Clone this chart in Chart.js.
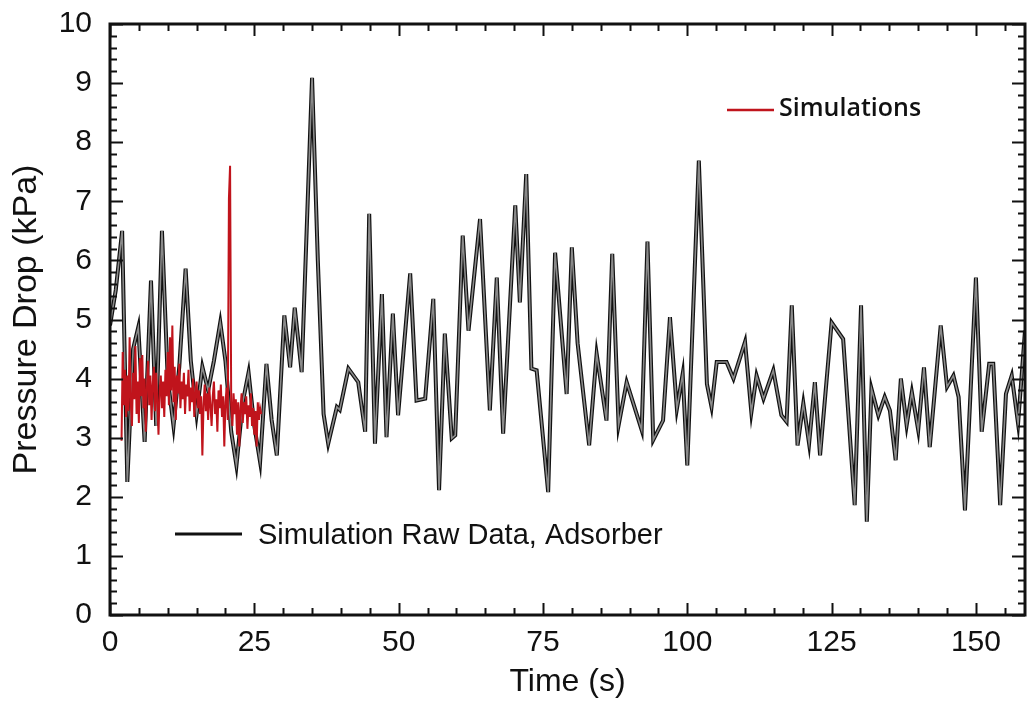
<!DOCTYPE html>
<html>
<head>
<meta charset="utf-8">
<script src="https://cdn.jsdelivr.net/npm/chart.js@4.4.0/dist/chart.umd.min.js"></script>
<style>
  html, body { margin: 0; padding: 0; background: #fff; }
  #chart { display: block; }
</style>
</head>
<body>
<canvas id="chart" width="1028" height="706"></canvas>
<script>
// raw adsorber trace (black)
const rawTime = [0, 1, 2.1, 3.0, 4.0, 4.9, 6.0, 7.1, 8.0, 9.0, 10.0, 11.0, 12.0, 13.1, 14.0, 15.0, 16.0, 17.0, 18.0, 19.1,
  20.0, 21.0, 21.9, 23.0, 24.0, 25.0, 26.0, 27.1, 28.0, 28.9, 30.2, 31.2, 32.0, 33.2, 35.0, 36.0, 37.0, 37.8, 39.3, 39.8,
  41.3, 43.0, 44.2, 44.9, 45.9, 47.1, 47.9, 49.0, 49.9, 52.0, 53.1, 54.6, 56.0, 57.0, 58.0, 59.2, 59.8, 61.1, 62.1, 64.1,
  65.8, 67.0, 68.1, 70.2, 71.0, 72.1, 73.0, 73.9, 75.9, 77.1, 79.1, 80.0, 81.0, 83.0, 84.3, 86.0, 87.0, 88.1, 89.5, 92.1,
  93.1, 94.1, 95.8, 97.0, 98.2, 99.2, 100.0, 102.0, 103.4, 104.2, 105.1, 106.8, 108.0, 110.0, 111.1, 112.0, 113.2, 114.9, 116.3, 117.2,
  118.1, 119.1, 120.1, 121.1, 122.1, 123.0, 125.0, 127.0, 129.0, 130.1, 131.1, 131.9, 133.1, 134.2, 135.1, 136.1, 137.0, 138.0, 138.9, 140.0,
  141.0, 142.0, 143.9, 145.0, 146.1, 147.0, 148.1, 150.0, 151.0, 152.3, 153.0, 154.2, 155.2, 156.2, 157.3, 158.5, 159.5];
const rawPressure = [4.9, 5.5, 6.5, 2.25, 4.5, 4.87, 2.93, 5.66, 3.2, 6.5, 4.0, 3.2, 4.2, 5.86, 4.3, 3.4, 4.2, 3.8, 4.3, 4.95,
  4.3, 3.1, 2.53, 3.6, 4.1, 3.2, 2.59, 4.25, 3.3, 2.7, 5.07, 4.19, 5.2, 4.11, 9.09, 6.0, 3.4, 2.9, 3.52, 3.47,
  4.17, 3.94, 3.1, 6.79, 2.9, 5.43, 3.01, 5.1, 3.38, 5.78, 3.63, 3.66, 5.35, 2.11, 4.76, 2.99, 3.04, 6.42, 4.81, 6.7,
  3.46, 5.71, 3.07, 6.93, 5.29, 7.46, 4.17, 4.14, 2.08, 6.13, 3.74, 6.22, 4.6, 2.87, 4.42, 3.29, 6.11, 3.21, 3.94, 3.13,
  6.32, 2.96, 3.29, 5.04, 3.49, 4.08, 2.53, 7.69, 3.91, 3.52, 4.28, 4.28, 4.0, 4.62, 3.43, 4.05, 3.66, 4.14, 3.38, 3.27,
  5.24, 2.87, 3.58, 2.9, 3.94, 2.7, 4.95, 4.67, 1.86, 5.24, 1.58, 3.83, 3.38, 3.69, 3.46, 2.62, 4.0, 3.21, 3.77, 3.13,
  4.19, 2.84, 4.9, 3.86, 4.05, 3.69, 1.77, 5.71, 3.1, 4.25, 4.25, 1.86, 3.74, 4.05, 3.24, 4.81, 5.3];

// simulations (red)
const simTime = [2.0, 2.2, 2.4, 2.6, 2.8, 3.0, 3.2, 3.4, 3.6, 3.8, 4.0, 4.2, 4.4, 4.6, 4.8, 5.0, 5.2, 5.4, 5.6, 5.8,
  6.0, 6.2, 6.4, 6.6, 6.8, 7.0, 7.2, 7.4, 7.6, 7.8, 8.0, 8.2, 8.4, 8.6, 8.8, 9.0, 9.2, 9.4, 9.6, 9.8,
  10.0, 10.2, 10.4, 10.6, 10.8, 11.0, 11.2, 11.4, 11.6, 11.8, 12.0, 12.2, 12.4, 12.6, 12.8, 13.0, 13.2, 13.4, 13.6, 13.8,
  14.0, 14.2, 14.4, 14.6, 14.8, 15.0, 15.2, 15.4, 15.6, 15.8, 16.0, 16.2, 16.4, 16.6, 16.8, 17.0, 17.2, 17.4, 17.6, 17.8,
  18.0, 18.2, 18.4, 18.6, 18.8, 19.0, 19.2, 19.4, 19.6, 19.8, 20.0, 20.2, 20.4, 20.6, 20.8, 21.0, 21.2, 21.4, 21.6, 21.8,
  22.0, 22.2, 22.4, 22.6, 22.8, 23.0, 23.2, 23.4, 23.6, 23.8, 24.0, 24.2, 24.4, 24.6, 24.8, 25.0, 25.2, 25.4, 25.6, 25.8,
  26.0, 26.2];
const simPressure = [2.95, 4.45, 3.55, 4.15, 3.35, 4.05, 3.45, 4.7, 3.6, 3.2, 4.1, 3.65, 4.55, 3.4, 3.95, 3.25, 4.35, 3.7, 4.4, 3.5,
  4.0, 3.1, 3.85, 4.3, 3.55, 4.05, 3.3, 3.9, 4.2, 3.45, 4.1, 3.6, 3.05, 3.8, 4.05, 3.5, 3.95, 3.35, 4.15, 3.7,
  4.45, 3.55, 4.7, 3.8, 4.9, 3.6, 4.2, 3.3, 4.05, 3.75, 4.25, 3.5, 3.95, 3.65, 4.1, 3.4, 3.9, 3.7, 4.15, 3.45,
  3.85, 3.6, 4.0, 3.35, 3.75, 3.95, 3.5, 3.8, 3.4, 3.7, 2.7, 3.55, 3.9, 3.45, 3.75, 3.3, 3.85, 3.55, 3.2, 3.7,
  3.95, 3.4, 3.65, 3.1, 3.8, 3.5, 3.9, 3.35, 3.7, 2.85, 3.6, 3.85, 3.3, 7.05, 7.6, 3.55, 3.2, 3.75, 3.4, 3.65,
  3.05, 3.6, 2.85, 3.5, 3.75, 3.25, 3.6, 3.4, 3.7, 3.15, 3.55, 3.35, 3.75, 3.2, 3.5, 3.05, 3.45, 2.85, 3.6, 3.3,
  3.5, 3.4];

const xMin = 0, xMax = 158.5, xStep = 25, xMinor = 5;
const yMin = 0, yMax = 10, yStep = 1, yMinor = 0.2;

function toPoints(xs, ys) {
  return xs.map((x, i) => ({ x: x, y: ys[i] }));
}

// frame, inward ticks and the two in-plot legends
const frameAndLegend = {
  id: 'frameAndLegend',
  afterDatasetsDraw(chart) {
    const { ctx, chartArea: a, scales: { x, y } } = chart;
    ctx.save();
    ctx.strokeStyle = '#111';
    ctx.lineWidth = 2;
    ctx.beginPath();
    for (let t = xMin; t <= xMax; t += xMinor) {
      const px = Math.round(x.getPixelForValue(t)) + 0.5;
      const len = t % xStep === 0 ? 12 : 7;
      ctx.moveTo(px, a.bottom); ctx.lineTo(px, a.bottom - len);
      ctx.moveTo(px, a.top); ctx.lineTo(px, a.top + len);
    }
    const n = Math.round((yMax - yMin) / yMinor);
    for (let i = 0; i <= n; i++) {
      const py = Math.round(y.getPixelForValue(yMin + i * yMinor)) + 0.5;
      const len = i % 5 === 0 ? 13 : 7;
      ctx.moveTo(a.left, py); ctx.lineTo(a.left + len, py);
      ctx.moveTo(a.right, py); ctx.lineTo(a.right - len, py);
    }
    ctx.stroke();
    ctx.lineWidth = 3;
    ctx.strokeRect(a.left, a.top, a.right - a.left, a.bottom - a.top);

    // legend: raw data
    ctx.lineWidth = 3;
    ctx.strokeStyle = '#111';
    ctx.beginPath();
    ctx.moveTo(175, 534); ctx.lineTo(242, 534);
    ctx.stroke();
    ctx.fillStyle = '#111';
    ctx.font = '29px "Liberation Sans", Arial, sans-serif';
    ctx.textBaseline = 'middle';
    ctx.textAlign = 'left';
    ctx.fillText('Simulation Raw Data, Adsorber', 258, 536);

    // legend: simulations
    ctx.strokeStyle = '#c0141c';
    ctx.lineWidth = 2.5;
    ctx.beginPath();
    ctx.moveTo(727, 110); ctx.lineTo(774, 110);
    ctx.stroke();
    ctx.font = '600 25px "Open Sans", sans-serif';
    ctx.fillText('Simulations', 779, 109);
    ctx.restore();
  }
};

const ctx = document.getElementById('chart').getContext('2d');
new Chart(ctx, {
  type: 'line',
  data: {
    datasets: [
      {
        label: 'Simulation Raw Data, Adsorber',
        data: toPoints(rawTime, rawPressure),
        borderColor: '#111111',
        borderWidth: 4,
        pointRadius: 0,
        tension: 0,
        order: 3
      },
      {
        label: 'raw core',
        data: toPoints(rawTime, rawPressure),
        borderColor: '#8a8a8a',
        borderWidth: 1.6,
        pointRadius: 0,
        tension: 0,
        order: 2
      },
      {
        label: 'Simulations',
        data: toPoints(simTime, simPressure),
        borderColor: '#c0141c',
        borderWidth: 2,
        pointRadius: 0,
        tension: 0,
        order: 1
      }
    ]
  },
  options: {
    responsive: false,
    animation: false,
    layout: { padding: { top: 24, right: 3, left: 0, bottom: 0 } },
    plugins: {
      legend: { display: false },
      tooltip: { enabled: false }
    },
    scales: {
      x: {
        type: 'linear',
        min: xMin,
        max: xMax,
        grid: { display: false, drawTicks: false },
        border: { display: false },
        ticks: {
          stepSize: xStep,
          includeBounds: false,
          padding: 10,
          maxRotation: 0,
          color: '#111',
          font: { family: '"Liberation Sans", Arial, sans-serif', size: 30 }
        },
        title: {
          display: true,
          text: 'Time (s)',
          color: '#111',
          padding: { top: 0, bottom: 5 },
          font: { family: '"Liberation Sans", Arial, sans-serif', size: 32 }
        },
        afterFit(scale) {
          scale.height = 91;
          scale.paddingLeft = 0;
          scale.paddingRight = 0;
        }
      },
      y: {
        type: 'linear',
        min: yMin,
        max: yMax,
        grid: { display: false, drawTicks: false },
        border: { display: false },
        ticks: {
          stepSize: yStep,
          padding: 18,
          color: '#111',
          font: { family: '"Liberation Sans", Arial, sans-serif', size: 30 }
        },
        title: {
          display: true,
          text: 'Pressure Drop (kPa)',
          color: '#111',
          padding: { top: 6, bottom: 0 },
          font: { family: '"Liberation Sans", Arial, sans-serif', size: 34 }
        },
        afterFit(scale) {
          scale.width = 110;
          scale.paddingTop = 0;
          scale.paddingBottom = 0;
        }
      }
    }
  },
  plugins: [frameAndLegend]
});
</script>
</body>
</html>
